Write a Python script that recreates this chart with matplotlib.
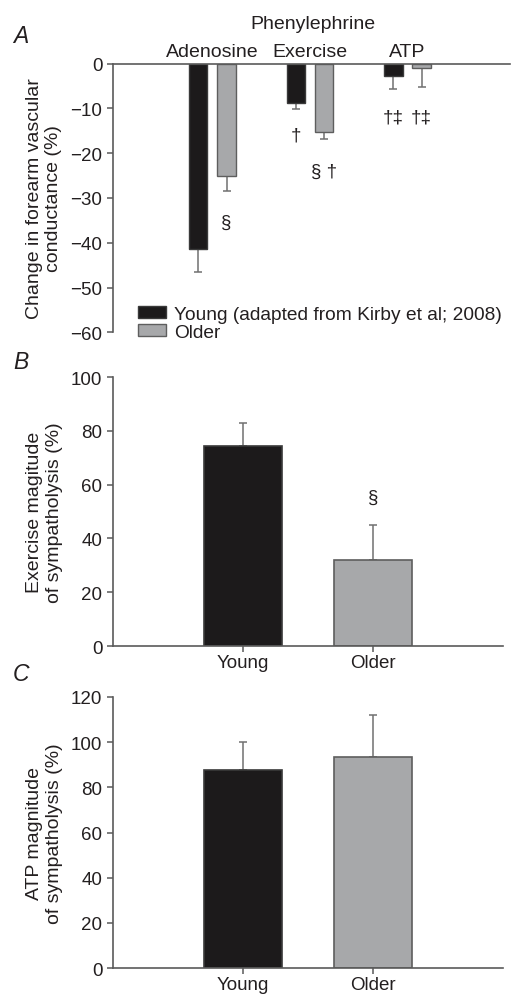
import matplotlib
matplotlib.use('Agg')
import matplotlib.pyplot as plt
import numpy as np

plt.rcParams['font.family'] = ['Liberation Sans', 'DejaVu Sans']

# --- data ---
drugs = ['Adenosine', 'Exercise', 'ATP']
young_fvc = [-41.5, -8.8, -2.8]
young_fvc_err = [5.0, 1.4, 2.8]
older_fvc = [-25.0, -15.2, -1.0]
older_fvc_err = [3.5, 1.6, 4.3]
young_marks = ['', '\u2020', '\u2020\u2021']
older_marks = ['\u00a7', '\u00a7 \u2020', '\u2020\u2021']
young_mark_y = [None, -16, -12]
older_mark_y = [-35.5, -24, -12]

groups = ['Young', 'Older']
exercise_mag = [74.5, 32.0]
exercise_err = [8.5, 13.0]
exercise_marks = ['', '\u00a7']
atp_mag = [87.5, 93.5]
atp_err = [12.5, 18.5]

BLACK = '#1c1a1b'
GREY = '#a7a8aa'
EDGE_GREY = '#5e5e5e'
SPINE = '#5a5a5a'
TXT = '#231f20'
ERR = '#707070'
FS = 13.5

fig = plt.figure(figsize=(5.13, 9.95), dpi=100)


def style(ax):
    for s in ['top', 'right', 'bottom', 'left']:
        ax.spines[s].set_color(SPINE)
        ax.spines[s].set_linewidth(1.2)
    ax.tick_params(colors=SPINE, labelcolor=TXT, labelsize=FS, length=4, width=1.1)


# --- panel A ---
axA = fig.add_axes([0.220, 0.665, 0.774, 0.270])
x = np.arange(len(drugs))
off, w = 0.145, 0.19
axA.bar(x - off, young_fvc, w, color=BLACK, edgecolor='#3a3a3a', lw=1,
        label='Young (adapted from Kirby et al; 2008)', zorder=2)
axA.bar(x + off, older_fvc, w, color=GREY, edgecolor=EDGE_GREY, lw=1,
        label='Older', zorder=2)
axA.errorbar(x - off, young_fvc, yerr=[young_fvc_err, np.zeros(3)], fmt='none',
             ecolor=ERR, elinewidth=1.1, capsize=3, capthick=1.1, zorder=1)
axA.errorbar(x + off, older_fvc, yerr=[older_fvc_err, np.zeros(3)], fmt='none',
             ecolor=ERR, elinewidth=1.1, capsize=3, capthick=1.1, zorder=1)
for i in range(len(drugs)):
    if young_marks[i]:
        axA.text(x[i] - off, young_mark_y[i], young_marks[i], ha='center', va='center',
                 fontsize=FS, color=TXT)
    axA.text(x[i] + off, older_mark_y[i], older_marks[i], ha='center', va='center',
             fontsize=FS, color=TXT)
    axA.text(x[i], 0.9, drugs[i], ha='center', va='bottom', fontsize=FS + 0.5, color=TXT)
axA.text(1.03, 7.0, 'Phenylephrine', ha='center', va='bottom', fontsize=FS + 0.5, color=TXT)
axA.set_xlim(-1.02, 3.05)
axA.set_ylim(-60, 0)
axA.set_yticks([0, -10, -20, -30, -40, -50, -60])
axA.set_yticklabels(['0', '\u221210', '\u221220', '\u221230', '\u221240', '\u221250', '\u221260'])
axA.set_xticks([])
style(axA)
axA.spines['bottom'].set_visible(False)
axA.spines['right'].set_visible(False)
axA.set_ylabel('Change in forearm vascular\nconductance (%)', fontsize=FS + 0.5, color=TXT,
               labelpad=6)
axA.legend(loc='lower left', bbox_to_anchor=(0.045, -0.06), frameon=False, fontsize=FS + 0.3,
           handlelength=1.45, handleheight=0.55, handletextpad=0.4, labelspacing=0.05,
           borderaxespad=0, labelcolor=TXT)
fig.text(0.025, 0.963, 'A', fontsize=FS + 3, style='italic', color=TXT, va='center')


def mag_panel(rect, vals, errs, ymax, label, letter, letter_y, marks=None):
    ax = fig.add_axes(rect)
    xx = np.arange(len(groups))
    ax.bar(xx, vals, 0.6, color=[BLACK, GREY], edgecolor=['#3a3a3a', EDGE_GREY], lw=1.2, zorder=2)
    ax.errorbar(xx, vals, yerr=[np.zeros(len(vals)), errs], fmt='none', ecolor=ERR,
                elinewidth=1.1, capsize=3, capthick=1.1, zorder=1)
    if marks:
        for i, m in enumerate(marks):
            if m:
                ax.text(xx[i], vals[i] + errs[i] + 7, m, ha='center', va='bottom',
                        fontsize=FS, color=TXT)
    ax.set_xlim(-1.0, 2.0)
    ax.set_ylim(0, ymax)
    ax.set_yticks(np.arange(0, ymax + 1, 20))
    ax.set_xticks(xx)
    ax.set_xticklabels(groups)
    style(ax)
    ax.tick_params(axis='x', pad=2)
    ax.spines['top'].set_visible(False)
    ax.spines['right'].set_visible(False)
    ax.set_ylabel(label, fontsize=FS + 0.5, color=TXT, labelpad=6)
    fig.text(0.025, letter_y, letter, fontsize=FS + 3, style='italic', color=TXT, va='center')
    return ax


# --- panel B ---
mag_panel([0.220, 0.3497, 0.760, 0.2703], exercise_mag, exercise_err, 100,
          'Exercise magitude\nof sympatholysis (%)', 'B', 0.636, exercise_marks)

# --- panel C ---
mag_panel([0.220, 0.0261, 0.760, 0.2724], atp_mag, atp_err, 120,
          'ATP magnitude\nof sympatholysis (%)', 'C', 0.322)

plt.savefig('out.png', dpi=100)
plt.close()
